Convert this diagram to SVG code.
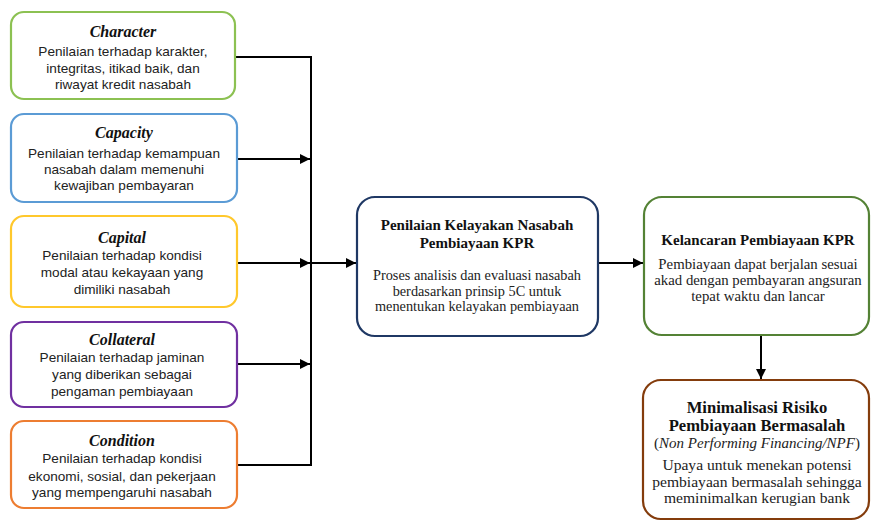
<svg xmlns="http://www.w3.org/2000/svg" width="872" height="521" viewBox="0 0 872 521">
<style>
.box{fill:#fff;stroke-width:2.2}
.ti{font-family:"Liberation Serif",serif;font-weight:bold;font-style:italic;font-size:16px;text-anchor:middle;fill:#111}
.bd{font-family:"Liberation Sans",Arial,sans-serif;font-size:13.6px;text-anchor:middle;fill:#222}
.st{font-family:"Liberation Serif",serif;font-weight:bold;font-size:15px;text-anchor:middle;fill:#111}
.sb{font-family:"Liberation Serif",serif;font-size:14.3px;text-anchor:middle;fill:#222}
.gb{font-size:14.8px}
.bt{font-size:16.6px}
.bn{font-size:15px}
.bb{font-size:15.6px}
.ln{fill:none;stroke:#000;stroke-width:2}
</style>
<defs>
<marker id="ah" viewBox="0 0 10 10" refX="10" refY="5" markerWidth="5" markerHeight="5" orient="auto" markerUnits="strokeWidth">
<path d="M0,0 L10,5 L0,10 z" fill="#000"/>
</marker>
</defs>
<g id="connectors">
<path class="ln" d="M235,57 H311 V465 H236"/>
<path class="ln" d="M237,159 H310" marker-end="url(#ah)"/>
<path class="ln" d="M237,263 H310" marker-end="url(#ah)"/>
<path class="ln" d="M237,364 H310" marker-end="url(#ah)"/>
<path class="ln" d="M311,263 H356" marker-end="url(#ah)"/>
<path class="ln" d="M598,263 H643" marker-end="url(#ah)"/>
<path class="ln" d="M761,335 V379" marker-end="url(#ah)"/>
</g>
<g id="character">
<rect class="box" x="11" y="12" width="224" height="87" rx="13" stroke="#8CC152"/>
<text class="ti" x="123" y="37">Character</text>
<text class="bd" x="123" y="56">Penilaian terhadap karakter,</text>
<text class="bd" x="123" y="73">integritas, itikad baik, dan</text>
<text class="bd" x="123" y="89">riwayat kredit nasabah</text>
</g>
<g id="capacity">
<rect class="box" x="11" y="114" width="226" height="88" rx="13" stroke="#5B9BD5"/>
<text class="ti" x="124" y="138">Capacity</text>
<text class="bd" x="124" y="158">Penilaian terhadap kemampuan</text>
<text class="bd" x="124" y="174">nasabah dalam memenuhi</text>
<text class="bd" x="124" y="190">kewajiban pembayaran</text>
</g>
<g id="capital">
<rect class="box" x="11" y="216" width="226" height="91" rx="13" stroke="#FFC82C"/>
<text class="ti" x="122" y="243">Capital</text>
<text class="bd" x="122" y="260">Penilaian terhadap kondisi</text>
<text class="bd" x="122" y="277">modal atau kekayaan yang</text>
<text class="bd" x="122" y="294">dimiliki nasabah</text>
</g>
<g id="collateral">
<rect class="box" x="11" y="322" width="226" height="85" rx="13" stroke="#7030A0"/>
<text class="ti" x="122" y="345">Collateral</text>
<text class="bd" x="122" y="362">Penilaian terhadap jaminan</text>
<text class="bd" x="122" y="379">yang diberikan sebagai</text>
<text class="bd" x="122" y="396">pengaman pembiayaan</text>
</g>
<g id="condition">
<rect class="box" x="11" y="421" width="226" height="87" rx="13" stroke="#ED7D31"/>
<text class="ti" x="122" y="446">Condition</text>
<text class="bd" x="122" y="463">Penilaian terhadap kondisi</text>
<text class="bd" x="122" y="481">ekonomi, sosial, dan pekerjaan</text>
<text class="bd" x="122" y="497">yang mempengaruhi nasabah</text>
</g>
<g id="penilaian">
<rect class="box" x="357" y="197" width="241" height="139" rx="18" stroke="#1F3864" stroke-width="2.6"/>
<text class="st" x="477" y="230">Penilaian Kelayakan Nasabah</text>
<text class="st" x="477" y="248">Pembiayaan KPR</text>
<text class="sb" x="477" y="280">Proses analisis dan evaluasi nasabah</text>
<text class="sb" x="477" y="296">berdasarkan prinsip 5C untuk</text>
<text class="sb" x="477" y="311">menentukan kelayakan pembiayaan</text>
</g>
<g id="kelancaran">
<rect class="box" x="644" y="197" width="225" height="138" rx="18" stroke="#548235" stroke-width="2.6"/>
<text class="st" x="758" y="245">Kelancaran Pembiayaan KPR</text>
<text class="sb gb" x="758" y="269">Pembiayaan dapat berjalan sesuai</text>
<text class="sb gb" x="758" y="285">akad dengan pembayaran angsuran</text>
<text class="sb gb" x="758" y="301">tepat waktu dan lancar</text>
</g>
<g id="minimalisasi">
<rect class="box" x="643" y="380" width="226" height="139" rx="18" stroke="#843C0C" stroke-width="2.6"/>
<text class="st bt" x="757" y="412.5">Minimalisasi Risiko</text>
<text class="st bt" x="757" y="430.5">Pembiayaan Bermasalah</text>
<text class="sb bn" x="757" y="448">(<tspan font-style="italic">Non Performing Financing/NPF</tspan>)</text>
<text class="sb bb" x="757" y="470">Upaya untuk menekan potensi</text>
<text class="sb bb" x="757" y="486.5">pembiayaan bermasalah sehingga</text>
<text class="sb bb" x="757" y="503">meminimalkan kerugian bank</text>
</g>
</svg>
